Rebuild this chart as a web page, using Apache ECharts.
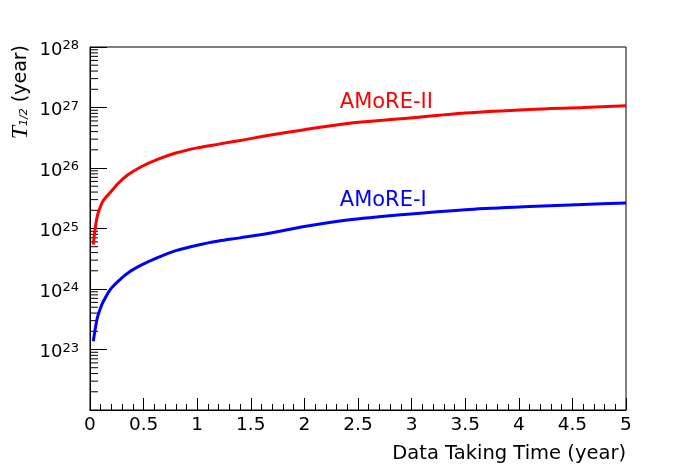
<!DOCTYPE html>
<html>
<head>
<meta charset="utf-8">
<script src="https://cdn.jsdelivr.net/npm/echarts@6/dist/echarts.min.js"></script>
<style>
  html, body { margin: 0; padding: 0; background: #fff; }
  #chartDiv { width: 696px; height: 472px; }
</style>
</head>
<body>
<div id="chartDiv"></div>
<script>
// data taking time (year)
var times = [0.031, 0.047, 0.068, 0.093, 0.124, 0.187, 0.264, 0.357, 0.482, 0.63, 0.8,
    1.0, 1.2, 1.4, 1.7, 2.0, 2.4, 2.9, 3.5, 4.1, 4.6, 5.0];
// T1/2 sensitivity (year)
var amore2 = [5.4e24, 9.6e24, 1.6e25, 2.2e25, 2.9e25, 3.9e25, 5.6e25, 7.8e25, 1.06e26, 1.39e26, 1.77e26,
    2.15e26, 2.48e26, 2.85e26, 3.55e26, 4.3e26, 5.45e26, 6.5e26, 8.1e26, 9.3e26, 1.0e27, 1.07e27];
var amore1 = [1.37e23, 2.1e23, 3.3e23, 4.6e23, 6.2e23, 9.7e23, 1.35e24, 1.86e24, 2.5e24, 3.3e24, 4.3e24,
    5.3e24, 6.2e24, 7.0e24, 8.5e24, 1.08e25, 1.38e25, 1.69e25, 2.05e25, 2.3e25, 2.5e25, 2.65e25];
var seriesNames = ['AMoRE-II', 'AMoRE-I'];
// where the curve names are written
var namePos = [[2.33, 1.23e27], [2.33, 2.9e25]];

// log minor ticks 2..9 per decade
var yMinor = [];
for (var d = 22; d < 28; d++) {
    for (var k = 2; k <= 9; k++) {
        yMinor.push([0, k * Math.pow(10, d)]);
    }
}

function pairs(ys) {
    var out = [];
    for (var i = 0; i < times.length; i++) out.push([times[i], ys[i]]);
    return out;
}

var font = 'DejaVu Sans';
var myChart = echarts.init(document.getElementById('chartDiv'));
var option = {
    animation: false,
    grid: {
        left: 90, top: 47, right: 70, bottom: 62,
        show: true, borderColor: '#000', borderWidth: 1
    },
    xAxis: {
        type: 'value',
        min: 0, max: 5, interval: 0.5,
        name: 'Data Taking Time (year)',
        nameLocation: 'end',
        nameGap: 0,
        nameTextStyle: {
            fontFamily: font, fontSize: 19.5, color: '#000',
            align: 'right', verticalAlign: 'top', padding: [34, 0, 0, 0]
        },
        axisLine: { lineStyle: { color: '#000', width: 1 } },
        axisTick: { inside: true, length: 12, lineStyle: { color: '#000' } },
        minorTick: { show: true, splitNumber: 5, length: 6, lineStyle: { color: '#000' } },
        splitLine: { show: false },
        axisLabel: { fontFamily: font, fontSize: 18.5, color: '#000', margin: 6 }
    },
    yAxis: {
        type: 'log',
        logBase: 10,
        min: 1e22, max: 1e28,
        splitNumber: 6,
        name: '{t|T}{s|1/2}{n| (year)}',
        nameLocation: 'end',
        nameRotate: 90,
        nameGap: 2,
        nameTextStyle: {
            align: 'right', verticalAlign: 'bottom', padding: [0, 0, 57, 0],
            rich: {
                t: { fontFamily: 'Liberation Serif', fontStyle: 'italic', fontSize: 24, color: '#000' },
                s: { fontFamily: font, fontStyle: 'italic', fontSize: 11, color: '#000', padding: [6, 0, 0, 0] },
                n: { fontFamily: font, fontSize: 19, color: '#000' }
            }
        },
        axisLine: { show: true, lineStyle: { color: '#000', width: 1 } },
        axisTick: { inside: true, length: 17, lineStyle: { color: '#000' } },
        splitLine: { show: false },
        axisLabel: {
            showMinLabel: false,
            margin: 11,
            formatter: function (v) {
                return '{b|10}{e|' + Math.round(Math.log10(v)) + '}';
            },
            rich: {
                b: { fontFamily: font, fontSize: 18, color: '#000', padding: [6, 0, 0, 0] },
                e: { fontFamily: font, fontSize: 13, color: '#000', padding: [0, 0, 2, 0] }
            }
        }
    },
    series: [
        {
            name: seriesNames[0],
            type: 'line',
            data: pairs(amore2),
            showSymbol: false,
            smooth: 0.3,
            lineStyle: { color: '#ff0000', width: 3 },
            itemStyle: { color: '#ff0000' },
            markPoint: {
                symbol: 'circle', symbolSize: 0, silent: true,
                label: { show: true, position: 'right', distance: 0, formatter: '{b}', fontFamily: font, fontSize: 21, color: '#ff0000' },
                data: [{ name: seriesNames[0], coord: namePos[0] }]
            }
        },
        {
            name: seriesNames[1],
            type: 'line',
            data: pairs(amore1),
            showSymbol: false,
            smooth: 0.3,
            lineStyle: { color: '#0000ff', width: 3 },
            itemStyle: { color: '#0000ff' },
            markPoint: {
                symbol: 'circle', symbolSize: 0, silent: true,
                label: { show: true, position: 'right', distance: 0, formatter: '{b}', fontFamily: font, fontSize: 21, color: '#0000ff' },
                data: [{ name: seriesNames[1], coord: namePos[1] }]
            }
        },
        {
            // minor ticks of the log axis
            type: 'custom',
            silent: true,
            clip: false,
            data: yMinor,
            renderItem: function (params, api) {
                var p = api.coord([0, api.value(1)]);
                return {
                    type: 'line',
                    shape: { x1: p[0], y1: p[1], x2: p[0] + 8, y2: p[1] },
                    style: { stroke: '#000', lineWidth: 1 }
                };
            }
        }
    ]
};
myChart.setOption(option);
</script>
</body>
</html>
